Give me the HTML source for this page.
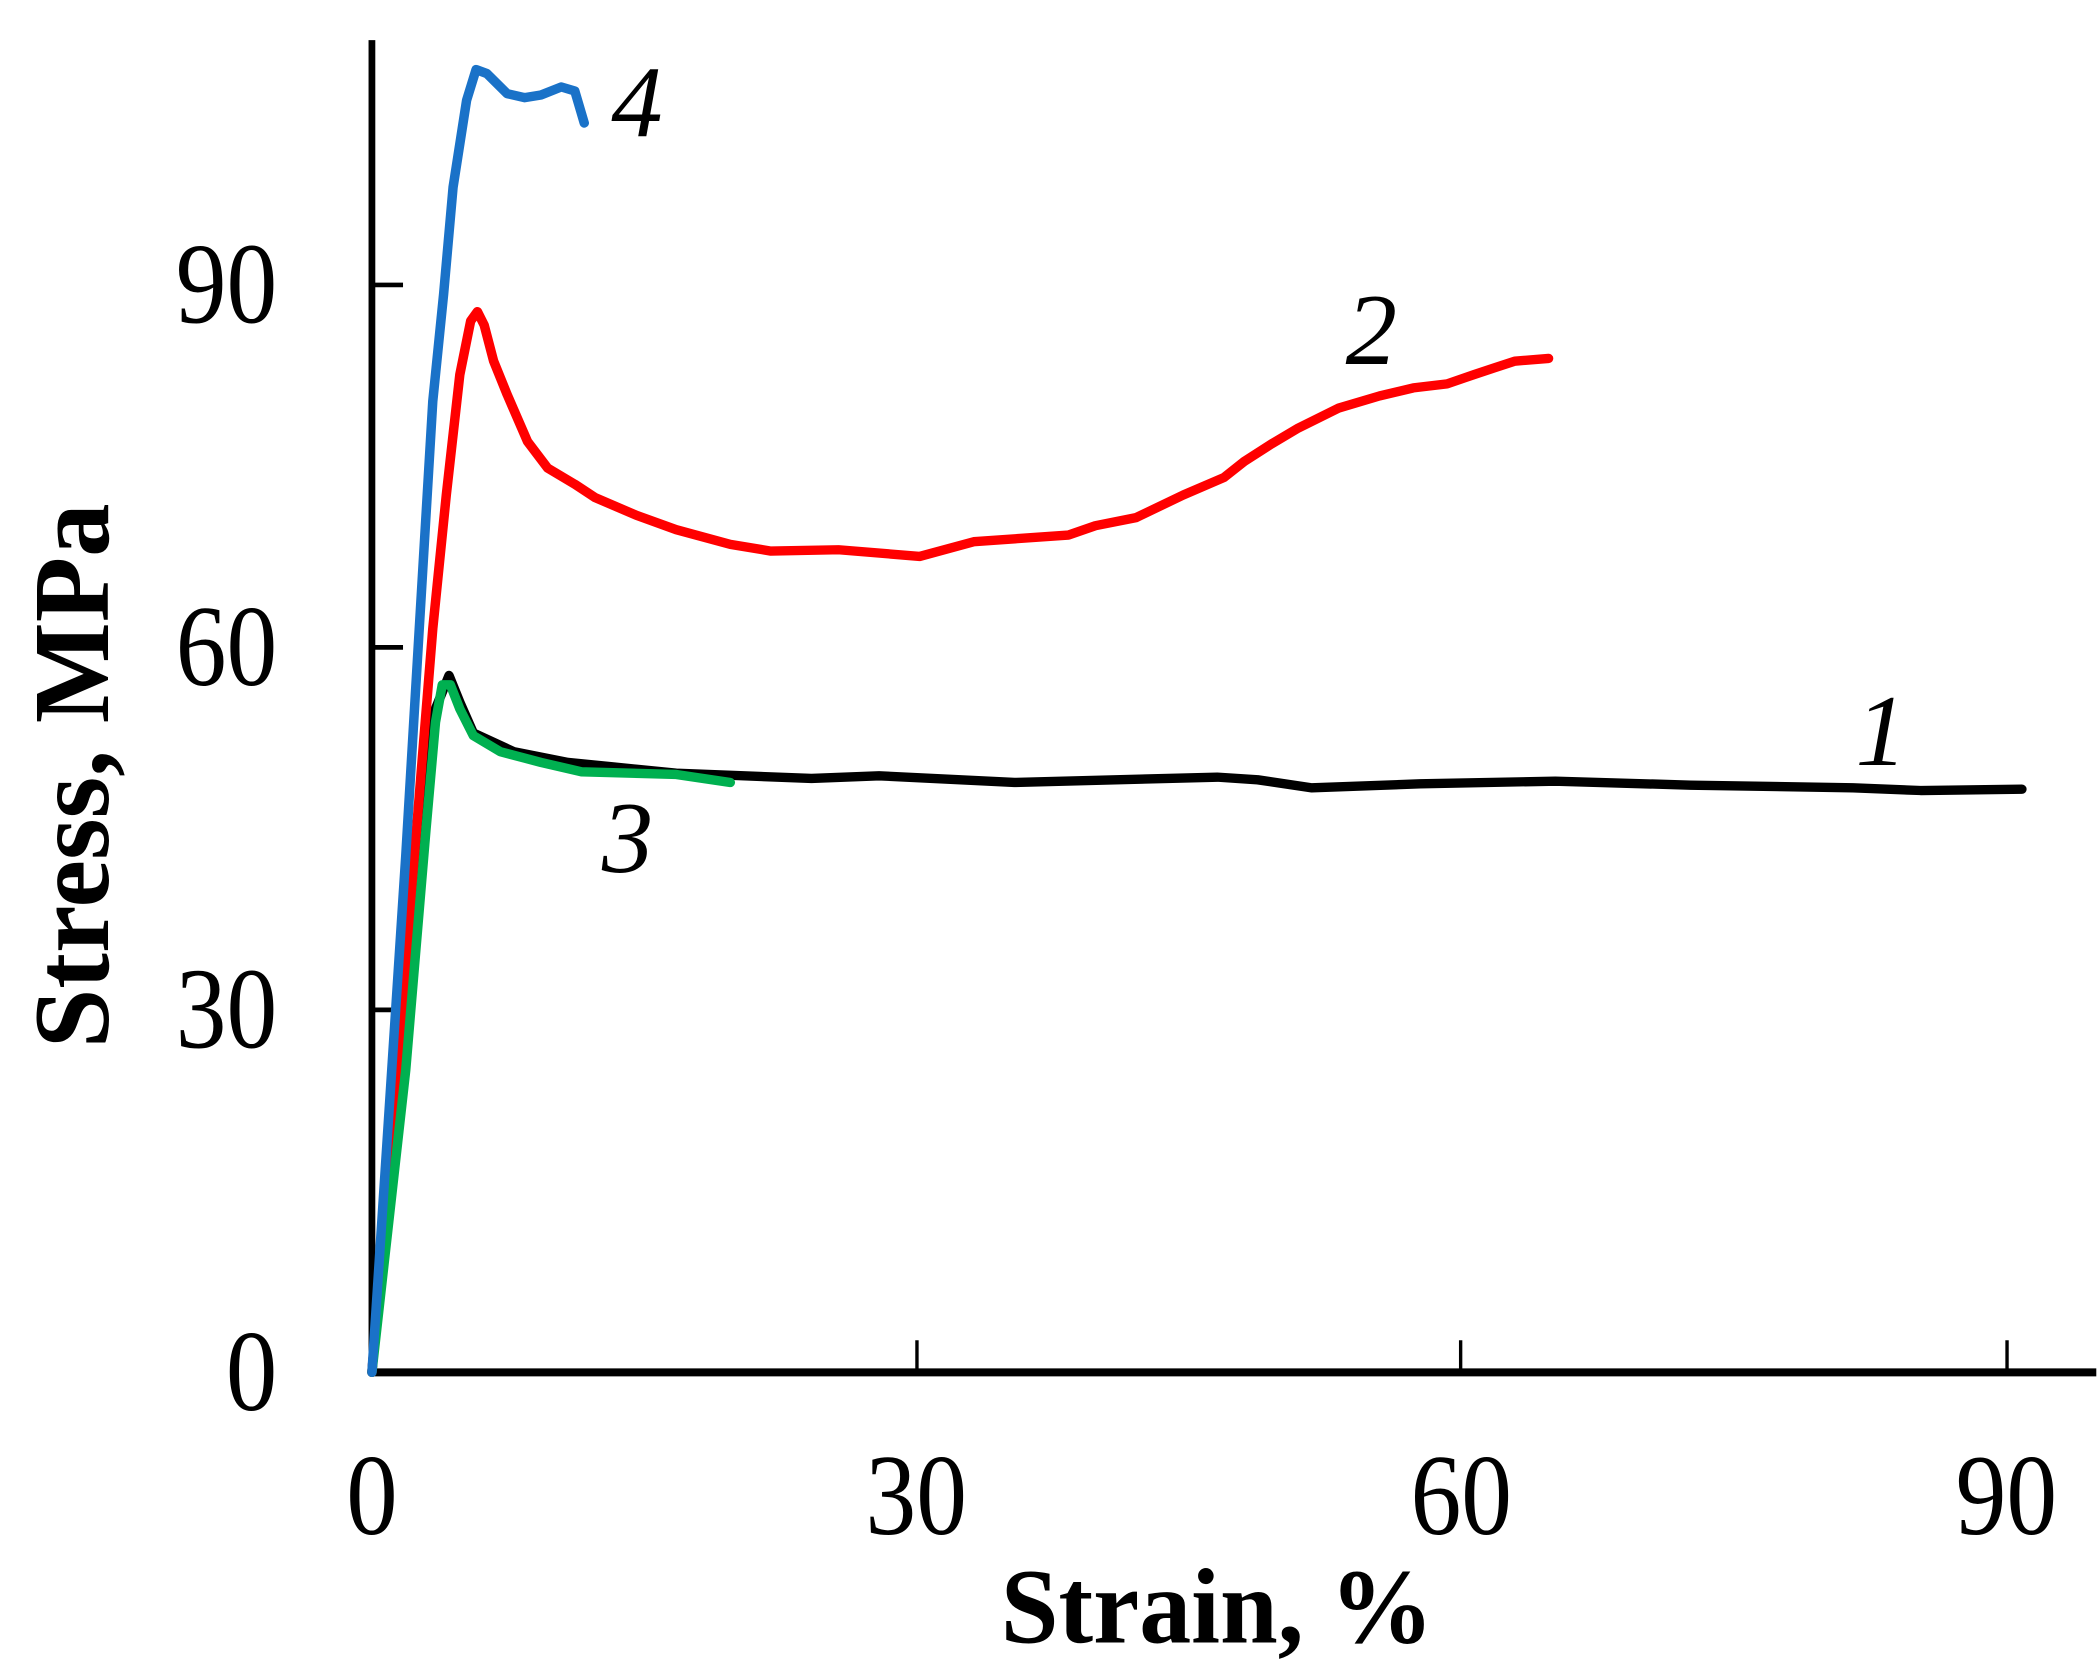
<!DOCTYPE html>
<html><head><meta charset="utf-8"><style>html,body{margin:0;padding:0;background:#fff}svg{display:block}</style></head>
<body>
<svg width="2099" height="1680" viewBox="0 0 1552 1256" preserveAspectRatio="none" xmlns="http://www.w3.org/2000/svg">
<rect width="1552" height="1256" fill="#fff"/>
<g stroke="#000" fill="none">
<line x1="275" y1="30" x2="275" y2="1028" stroke-width="5"/>
<line x1="273" y1="1026" x2="1550" y2="1026" stroke-width="6"/>
<line x1="275" y1="213" x2="298" y2="213" stroke-width="3.5"/>
<line x1="275" y1="484" x2="298" y2="484" stroke-width="3.5"/>
<line x1="275" y1="755" x2="298" y2="755" stroke-width="3.5"/>
<line x1="678" y1="1026" x2="678" y2="1002" stroke-width="2.5"/>
<line x1="1080" y1="1026" x2="1080" y2="1002" stroke-width="2.5"/>
<line x1="1484" y1="1026" x2="1484" y2="1002" stroke-width="2.5"/>
</g>
<g font-family="Liberation Serif, serif" font-size="86" fill="#000">
<text x="130" y="241" textLength="75" lengthAdjust="spacingAndGlyphs">90</text>
<text x="130" y="512" textLength="75" lengthAdjust="spacingAndGlyphs">60</text>
<text x="130" y="783" textLength="75" lengthAdjust="spacingAndGlyphs">30</text>
<text x="167" y="1054" textLength="38" lengthAdjust="spacingAndGlyphs">0</text>
<text x="256" y="1147" textLength="38" lengthAdjust="spacingAndGlyphs">0</text>
<text x="640" y="1147" textLength="75" lengthAdjust="spacingAndGlyphs">30</text>
<text x="1043" y="1147" textLength="75" lengthAdjust="spacingAndGlyphs">60</text>
<text x="1446" y="1147" textLength="75" lengthAdjust="spacingAndGlyphs">90</text>
</g>
<text x="740" y="1228" textLength="320" lengthAdjust="spacingAndGlyphs" font-family="Liberation Serif, serif" font-weight="bold" font-size="80">Strain, %</text>
<text transform="translate(80,580) rotate(-90)" text-anchor="middle" font-family="Liberation Serif, serif" font-weight="bold" font-size="80">Stress, MPa</text>
<g font-family="Liberation Serif, serif" font-style="italic" font-size="76" fill="#000">
<text x="452" y="102">4</text>
<text x="995" y="272">2</text>
<text x="1372" y="572">1</text>
<text x="445" y="652">3</text>
</g>
<g fill="none" stroke-width="7" stroke-linejoin="round" stroke-linecap="round">
<polyline stroke="#000" points="275,1026 310,600 322,530 332,505 340,525 350,548 380,562 420,570 500,578 600,582 650,580 750,585 900,581 930,583 970,589 1050,586 1150,584 1250,587 1370,589 1420,591 1495,590"/>
<polyline stroke="#ff0000" points="275,1026 300,720 320,470 330,370 340,280 348,240 353,233 358,243 365,270 375,295 390,330 405,350 425,362 440,372 470,385 500,396 540,407 570,412 620,411 680,416 720,405 790,400 810,393 840,387 875,370 905,357 920,345 940,332 960,320 990,305 1020,296 1045,290 1070,287 1090,280 1105,275 1120,270 1145,268"/>
<polyline stroke="#00b050" points="275,1026 300,800 315,620 322,540 327,512 333,512 340,530 350,550 370,562 400,570 430,577 500,579 540,585"/>
<polyline stroke="#1a72c8" points="275,1026 300,640 320,300 328,220 335,140 345,75 352,52 360,55 375,70 388,73 400,71 415,65 425,68 432,92"/>
</g>
</svg>
</body></html>
